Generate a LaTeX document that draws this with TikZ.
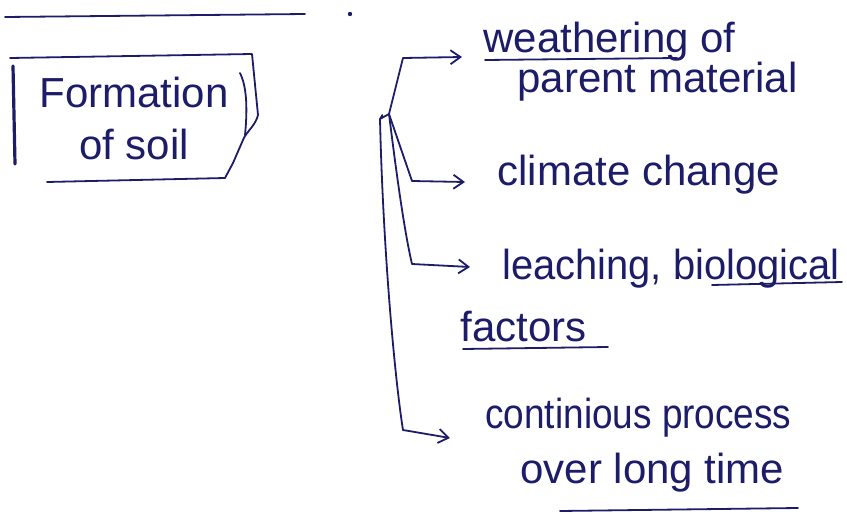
\documentclass[tikz,border=0pt]{standalone}
\usepackage{fontspec}
\setmainfont{Liberation Sans}
\newfontfamily\narrowA[FakeStretch=0.88]{Liberation Sans}
\newfontfamily\narrowB[FakeStretch=0.95]{Liberation Sans}
\usetikzlibrary{arrows.meta,calc}
\definecolor{ink}{RGB}{28,28,105}
\begin{document}
\begin{tikzpicture}[x=0.5pt,y=-0.5pt,
  ink line/.style={draw=ink,line width=0.9pt,line cap=round,line join=round},
  arr/.style={ink line,-{Straight Barb[length=5pt,width=7pt]}},
  lbl/.style={text=ink,font=\fontsize{21}{24}\selectfont,inner sep=0pt,anchor=base west},
  rule/.style={ink line}]
\useasboundingbox (0,0) rectangle (847,514);
% heading remnant
\draw[rule] (5,17) -- (305,14);
\fill[ink] (350,14) circle (2.2);
% box
\node[text=ink,font=\fontsize{21}{26}\selectfont,align=center,inner sep=0pt,
      minimum width=248,minimum height=126] (box) at (134,118)
      {Formation\\of soil};
\draw[ink line] (10,58) -- (252,54) -- (258,115)
   .. controls (256,125) and (246,132) .. (243,140) -- (233,163) -- (225,178) -- (47,182);
\draw[ink line,line width=1.6pt] (13,66) -- (15,164);
\draw[ink line] (240,73) .. controls (246,85) and (248,105) .. (245,135);
% junction
\coordinate (j) at (389,114);
\coordinate (jv) at (380,119);
\draw[ink line] (box.east) ++(0,-3) -- (jv) -- (j);
% labels
\node[lbl] (w1) at (483,53) {weathering of};
\node[lbl] (w2) at (517,92) {parent material};
\node[lbl] (cc) at (497,185) {climate change};
\node[lbl,font=\narrowB\fontsize{21}{24}\selectfont] (lb) at (502,279) {leaching, biological};
\node[lbl] (fa) at (460,341) {factors};
\node[lbl,font=\narrowA\fontsize{21}{24}\selectfont] (cp) at (485,428) {continious process};
\node[lbl] (ol) at (520,483) {over long time};
% underlines
\draw[rule] (485,60) -- (677,58);
\draw[rule] (712,285) -- (842,282);
\draw[rule] (463,349) -- (608,347);
\draw[rule] (560,511) -- (798,508);
% branches
\draw[arr] (j) -- (403,58) -- ($(w1.base west)+(-21,4)$);
\draw[arr] (j) -- (412,181) -- ($(cc.base west)+(-32,-3)$);
\draw[arr] (j) .. controls (396,170) and (404,230) .. (412,264) -- ($(lb.base west)+(-32,-12)$);
\draw[arr] (jv) .. controls (383,250) and (395,380) .. (403,430) -- ($(cp.base west)+(-35,10)$);
\end{tikzpicture}
\end{document}
